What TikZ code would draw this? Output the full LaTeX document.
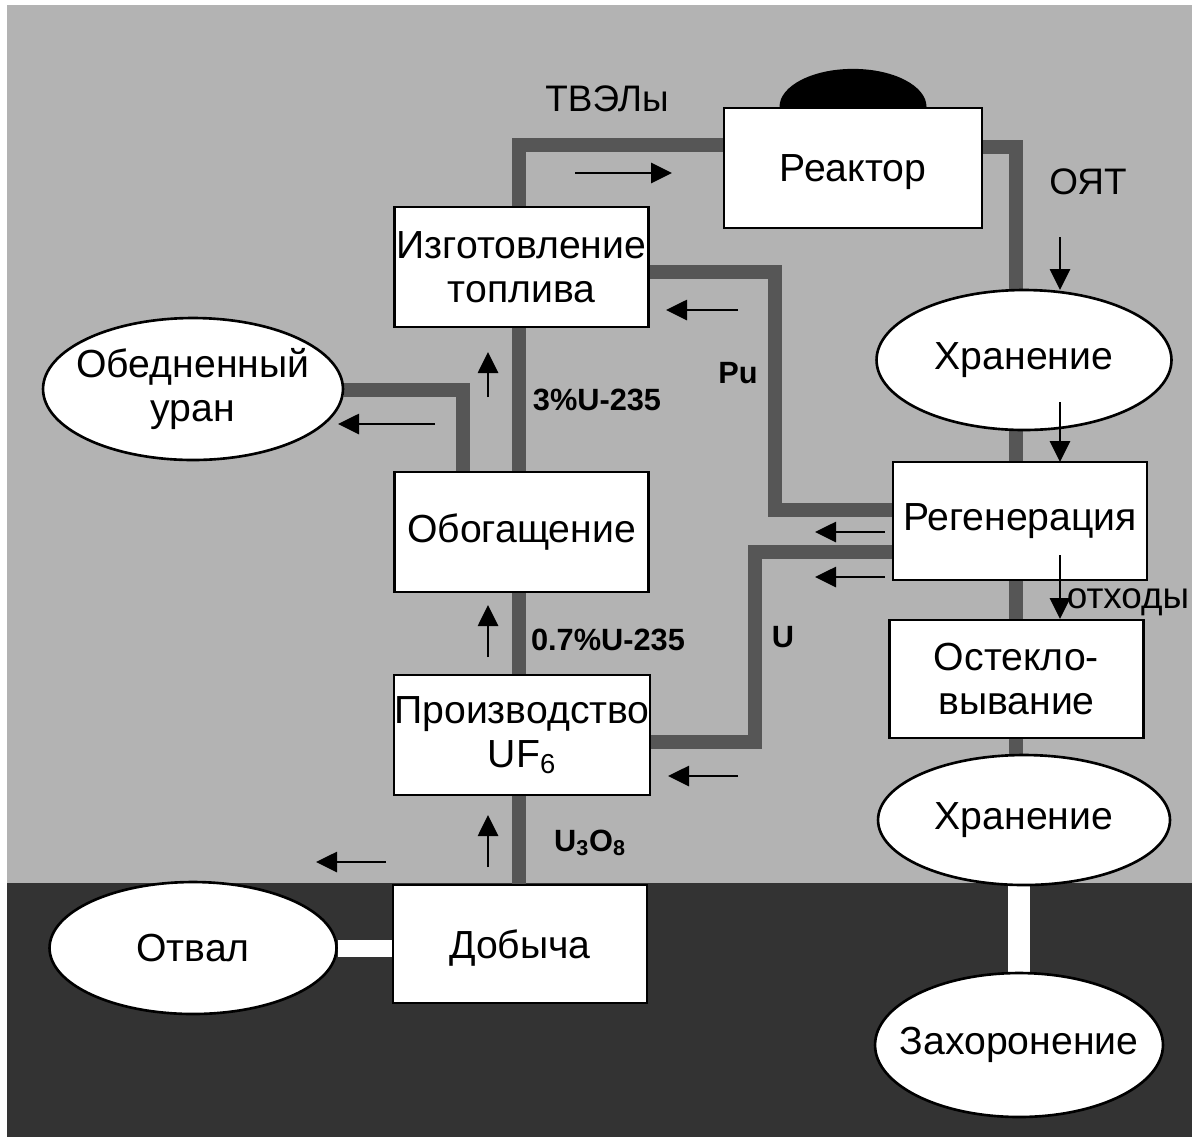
\documentclass[tikz,border=0pt]{standalone}
\usepackage{fontspec}
\setmainfont{Liberation Sans}
\usepackage{xcolor}
\usepackage{tikz}
\usetikzlibrary{
    positioning,
    arrows.meta,
    shapes.geometric,
    backgrounds,
}
\definecolor{sky}{HTML}{B3B3B3}
\definecolor{ground}{HTML}{333333}
\definecolor{pipegray}{HTML}{565656}
\tikzset{
    % Node styles
    box/.style={rectangle, draw, line width=1.3pt, fill=white, minimum width=5.08cm,
                minimum height=2.4cm, inner sep=0pt, align=center,
                font=\fontsize{22.3}{25}\selectfont},
    oval/.style={ellipse, draw, line width=1.5pt, fill=white, minimum width=5.9cm,
                 minimum height=2.8cm, inner sep=-8mm, align=center,
                 font=\fontsize{22.3}{25}\selectfont},
    % Line styles
    pipe/.style={line width=0.29cm, pipegray},
    link/.style={white},
    arrow/.style={-{Triangle[length=4.2mm, width=4mm]}, line width=1.6pt},
}

\begin{document}
\begin{tikzpicture}[
    x=0.02cm, y=-0.02cm,
    note/.style={font=\fontsize{21}{24}\selectfont},
    data/.style={font=\bfseries\fontsize{17.5}{20}\selectfont},
]
    \useasboundingbox (0,0) rectangle (1192,1137);

    % Boxes
    \node[box, minimum width=5.16cm, text depth=0pt] (reactor) at (853,168) {Реактор};
    \node[box] (fuel) at (521.5,267) {Изготовление\\топлива};
    \node[box] (enrich) at (521.5,532) {Обогащение};
    \node[box] (uf6) at (522,735) {Производство\\UF\textsubscript{6}};
    \node[box, minimum height=2.36cm, text depth=0pt] (mining) at (520,944) {Добыча};
    \node[box, minimum height=2.36cm] (regen) at (1020,521) {Регенерация};
    \node[box, minimum height=2.36cm] (vitrify) at (1016.5,679) {Остекло-\\вывание};

    % Ovals
    \node[oval, minimum width=6cm, minimum height=2.84cm] (depleted) at (193,389) {Обедненный\\уран};
    \node[oval, minimum width=5.74cm, minimum height=2.64cm] (dump) at (193,948) {Отвал};
    \node[oval] (store1) at (1024,360) {Хранение};
    \node[oval, minimum width=5.84cm, minimum height=2.6cm] (store2) at (1024,820) {Хранение};
    \node[oval, minimum width=5.76cm, minimum height=2.88cm] (burial) at (1019,1045) {Захоронение};

    % Reactor dome
    \fill (reactor.north) ++(-73.5,0) arc[start angle=180, end angle=360, x radius=73.5, y radius=38];

    % Bends of the pipes
    \coordinate (trunk) at (519,145);
    \coordinate (oyt) at (1016,147);
    \coordinate (pu top) at (775,272);
    \coordinate (pu bottom) at (775,510);
    \coordinate (u top) at (755,552);
    \coordinate (u bottom) at (755,742);
    \coordinate (dep bend) at (463,390);

    \begin{scope}[on background layer]
        % Ground and sky
        \fill[white] (0,0) rectangle (1192,1137);
        \fill[sky] (7,5) rectangle (1192,883);
        \fill[ground] (7,883) rectangle (1192,1137);

        % Pipes
        \draw[pipe] (mining.north -| trunk) -- (uf6.south -| trunk);
        \draw[pipe] (uf6.north -| trunk) -- (enrich.south -| trunk);
        \draw[pipe] (enrich.north -| trunk) -- (fuel.south -| trunk);
        \draw[pipe] (fuel.north -| trunk) -- (trunk) -- (trunk -| reactor.west);
        \draw[pipe] (reactor.east |- oyt) -- (oyt) -- (oyt |- store1.north);
        \draw[pipe] (oyt |- store1.south) -- (oyt |- regen.north);
        \draw[pipe] (oyt |- regen.south) -- (oyt |- vitrify.north);
        \draw[pipe] (oyt |- vitrify.south) -- (oyt |- store2.north);
        \draw[pipe] (fuel.east |- pu top) -- (pu top) -- (pu bottom) -- (pu bottom -| regen.west);
        \draw[pipe] (regen.west |- u top) -- (u top) -- (u bottom) -- (u bottom -| uf6.east);
        \draw[pipe] (depleted.east |- dep bend) -- (dep bend) -- (dep bend |- enrich.north);

        % White links underground
        \draw[link, line width=0.34cm] (dump.east) -- (dump.east -| mining.west);
        \draw[link, line width=0.44cm] (burial.north |- store2.south) -- (burial.north);
    \end{scope}

    % Arrows
    \draw[arrow] (575,173) -- (672,173);
    \draw[arrow] (488,397) -- (488,352);
    \draw[arrow] (435,424) -- (338,424);
    \draw[arrow] (488,657) -- (488,605);
    \draw[arrow] (488,867) -- (488,815);
    \draw[arrow] (386,862) -- (316,862);
    \draw[arrow] (738,310) -- (666,310);
    \draw[arrow] (885,532) -- (815,532);
    \draw[arrow] (885,577) -- (815,577);
    \draw[arrow] (738,776) -- (668,776);
    \draw[arrow] (1060,237) -- (1060,290);
    \draw[arrow] (1060,402) -- (1060,462);
    \draw[arrow] (1060,555) -- (1060,619);

    % Labels
    \node[note] (tvel label) at (607,99) {ТВЭЛы};
    \node[note] (oyt label) at (1088,182) {ОЯТ};
    \node[note] (waste label) at (1128,602) {отходы};
    \node[data] (pu label) at (738,373) {Pu};
    \node[data] (u label) at (783,637) {U};
    \node[data] (high label) at (597,400) {3\%U-235};
    \node[data] (low label) at (608,640) {0.7\%U-235};
    \node[data] (ore label) at (590,843) {U\textsubscript{3}O\textsubscript{8}};
\end{tikzpicture}
\end{document}
